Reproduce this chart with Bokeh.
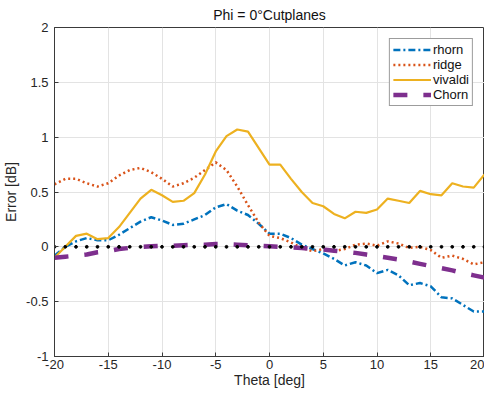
from bokeh.plotting import figure
from bokeh.models import FixedTicker, Legend, LegendItem, CustomJSTickFormatter
from bokeh.embed import file_html
from bokeh.resources import INLINE

theta = list(range(-20, 21))

rhorn = [-0.08, 0.0, 0.05, 0.08, 0.06, 0.06, 0.11, 0.17, 0.23, 0.27, 0.24,
         0.20, 0.21, 0.25, 0.29, 0.36, 0.39, 0.33, 0.29, 0.21, 0.12,
         0.12, 0.08, 0.02, -0.02, -0.06, -0.11, -0.17, -0.14, -0.17, -0.24,
         -0.21, -0.26, -0.35, -0.33, -0.36, -0.46, -0.47, -0.53, -0.59, -0.59]

ridge = [0.57, 0.62, 0.62, 0.58, 0.55, 0.58, 0.65, 0.70, 0.72, 0.68, 0.62,
         0.55, 0.58, 0.63, 0.70, 0.77, 0.70, 0.55, 0.38, 0.22, 0.10,
         0.08, 0.04, -0.01, -0.04, -0.02, -0.04, -0.02, 0.02, 0.03, 0.01,
         0.05, 0.03, -0.01, 0.0, -0.03, -0.10, -0.08, -0.11, -0.16, -0.14]

vivaldi = [-0.10, 0.0, 0.10, 0.12, 0.07, 0.08, 0.18, 0.31, 0.44, 0.52, 0.47,
           0.41, 0.42, 0.49, 0.66, 0.87, 1.01, 1.07, 1.05, 0.90, 0.75,
           0.75, 0.62, 0.50, 0.40, 0.37, 0.30, 0.26, 0.32, 0.31, 0.34,
           0.44, 0.42, 0.40, 0.51, 0.48, 0.47, 0.58, 0.55, 0.54, 0.66]

chorn = [-0.10, -0.09, -0.08, -0.07, -0.05, -0.04, -0.02, -0.01, 0.0, 0.005, 0.01,
         0.01, 0.015, 0.02, 0.02, 0.025, 0.025, 0.02, 0.015, 0.01, 0.005,
         0.0, -0.005, -0.01, -0.02, -0.025, -0.035, -0.045, -0.055, -0.07, -0.085,
         -0.10, -0.115, -0.135, -0.155, -0.175, -0.195, -0.215, -0.24, -0.26, -0.28]

zero_ref = [0.0] * len(theta)

x_ticks = [-20, -15, -10, -5, 0, 5, 10, 15, 20]
y_ticks = [-1, -0.5, 0, 0.5, 1, 1.5, 2]

FONT = "Liberation Sans"
AX = "#3a3a3a"

p = figure(width=484, height=390, x_range=(-20, 20), y_range=(-1, 2),
           output_backend="svg", toolbar_location=None,
           title="Phi = 0°Cutplanes",
           min_border_left=49, min_border_right=0, min_border_top=16,
           min_border_bottom=0)

p.title.align = "center"
p.title.text_font = FONT
p.title.text_font_size = "14px"
p.title.text_font_style = "normal"
p.title.text_color = "#111111"
p.title.standoff = 9

fmt = CustomJSTickFormatter(code="return tick.toString();")

for ax in p.xaxis + p.yaxis:
    ax.major_label_text_font = FONT
    ax.major_label_text_font_size = "13px"
    ax.major_label_text_color = "#262626"
    ax.axis_label_text_font = FONT
    ax.axis_label_text_font_size = "14px"
    ax.axis_label_text_font_style = "normal"
    ax.axis_label_text_color = "#262626"
    ax.axis_line_color = AX
    ax.major_tick_line_color = AX
    ax.major_tick_in = 4
    ax.major_tick_out = 0
    ax.minor_tick_line_color = None
    ax.formatter = fmt

p.xaxis.major_label_standoff = 3
p.xaxis.axis_label_standoff = 0
p.yaxis.major_label_standoff = 6
p.yaxis.axis_label_standoff = 4

p.xaxis.ticker = FixedTicker(ticks=x_ticks)
p.yaxis.ticker = FixedTicker(ticks=y_ticks)
p.xaxis.axis_label = "Theta [deg]"
p.yaxis.axis_label = "Error [dB]"

p.xgrid.ticker = FixedTicker(ticks=x_ticks)
p.ygrid.ticker = FixedTicker(ticks=y_ticks)
p.grid.grid_line_color = "#e3e3e3"
p.grid.grid_line_width = 1
p.outline_line_color = AX

r1 = p.line(theta, rhorn, line_color="#0072BD", line_width=2.5, line_dash="7 3 2 3")
r2 = p.line(theta, ridge, line_color="#D95319", line_width=2.5, line_dash="2 3")
r3 = p.line(theta, vivaldi, line_color="#EDB120", line_width=2.2)
r4 = p.line(theta, chorn, line_color="#7E2F8E", line_width=4.5, line_dash="14 16")

p.scatter(theta, zero_ref, size=2.8, color="black")

legend = Legend(items=[LegendItem(label="rhorn", renderers=[r1]),
                       LegendItem(label="ridge", renderers=[r2]),
                       LegendItem(label="vivaldi", renderers=[r3]),
                       LegendItem(label="Chorn", renderers=[r4])],
                location="top_right")
legend.margin = 11
legend.padding = 3
legend.spacing = 0
legend.glyph_width = 38
legend.glyph_height = 15
legend.label_height = 15
legend.label_standoff = 2
legend.label_text_font = FONT
legend.label_text_font_size = "13px"
legend.label_text_color = "#111111"
legend.border_line_color = AX
legend.border_line_width = 1
legend.background_fill_alpha = 1
p.add_layout(legend)

open("out.html", "w").write(file_html(p, INLINE))
